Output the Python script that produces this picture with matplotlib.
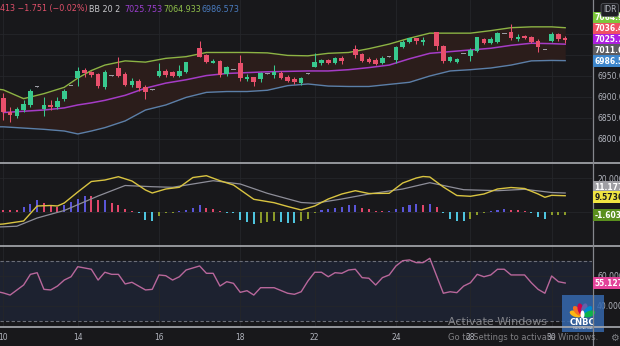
import matplotlib
matplotlib.use("Agg")
import matplotlib.pyplot as plt
from matplotlib.lines import Line2D
from matplotlib.patches import Ellipse, Rectangle
import numpy as np

nan = np.nan

# ---- price candles (4h bars) ----
opens = [6897.6, 6865.0, 6854.8, 6869.0, 6880.9, 6924.5, 6871.4, 6880.9, 6875.5, 6894.5,
         6926.2, 6945.2, 6964.3, 6958.8, 6954.8, 6924.5, 6950.7, 6968.3, 6954.8, 6928.6,
         6938.1, 6924.5, 6917.4, 6950.0, 6961.9, 6960.2, 6950.0, 6960.2, nan, 7015.9,
         7000.0, 6981.7, 6985.7, 6954.8, 6964.3, 6980.2, 6942.1, 6946.9, 6942.9, 6956.4,
         6952.4, 6957.9, 6948.3, 6942.1, 6934.0, 6956.4, 6972.1, 6980.2, 6988.1, 6980.2,
         6992.1, nan, 7013.6, 7001.7, 6989.7, 6988.1, 6980.2, 6995.9, 6988.1, 7018.3,
         7030.2, 7039.8, 7031.7, nan, 7053.6, 7021.4, 6986.4, 6982.6, 7002.4, 6997.6,
         7010.2, 7037.4, 7027.9, 7031.7, 7050.0, 7055.5, 7037.4, 7045.2, 7043.6, 7034.0,
         7011.9, 7034.0, 7050.0, 7039.8]
highs = [6909.5, 6876.9, 6876.9, 6892.8, 6918.3, 6925.5, 6900.7, 6892.8, 6899.3, 6918.3,
         6927.2, 6970.7, 6968.3, 6962.6, 6957.9, 6964.3, 6951.7, 6994.5, 6960.2, 6944.5,
         6942.1, 6928.6, 6918.4, 6980.2, 6965.9, 6962.6, 6976.2, 6984.1, nan, 7034.0,
         7002.4, 6989.7, 6988.1, 6973.8, 6965.3, 7000.0, 6954.0, 6948.3, 6960.2, 6957.4,
         6976.2, 6961.9, 6952.4, 6948.3, 6948.3, 6957.4, 7004.0, 6990.5, 6990.5, 6995.9,
         6997.6, nan, 7023.8, 7005.5, 6994.5, 6992.1, 6997.6, 6996.9, 7021.4, 7035.7,
         7041.2, 7041.2, 7042.1, nan, 7055.5, 7023.8, 6997.6, 6993.6, 7003.4, 7015.9,
         7043.6, 7039.8, 7042.1, 7054.0, 7051.0, 7073.8, 7049.3, 7047.6, 7045.2, 7037.4,
         7012.9, 7054.0, 7053.1, 7045.2]
lows = [6845.2, 6841.2, 6849.3, 6865.0, 6876.9, 6923.5, 6854.8, 6869.0, 6870.7, 6891.2,
        6925.2, 6926.2, 6948.3, 6948.3, 6920.7, 6918.3, 6949.7, 6948.3, 6926.2, 6924.5,
        6915.0, 6894.5, 6916.4, 6948.3, 6948.3, 6948.3, 6948.3, 6957.9, nan, 6994.5,
        6980.2, 6980.2, 6948.3, 6950.7, 6963.3, 6938.8, 6938.8, 6926.2, 6936.4, 6955.4,
        6944.5, 6942.1, 6936.4, 6931.0, 6928.6, 6955.4, 6970.7, 6976.2, 6977.9, 6978.6,
        6978.6, nan, 6992.1, 6984.1, 6980.2, 6976.2, 6977.9, 6994.9, 6980.2, 7015.9,
        7027.9, 7026.2, 7023.8, nan, 7011.9, 6980.2, 6984.1, 6980.2, 7001.4, 6986.4,
        7007.9, 7025.5, 7026.2, 7029.3, 7049.0, 7035.7, 7033.3, 7037.4, 7029.3, 7007.9,
        7010.9, 7031.7, 7034.0, 7027.9]
closes = [6864.3, 6857.1, 6870.7, 6882.6, 6914.3, 6924.5, 6880.9, 6875.5, 6891.2, 6914.3,
          6926.2, 6962.6, 6956.4, 6952.4, 6926.2, 6960.2, 6950.7, 6950.7, 6928.6, 6938.8,
          6920.7, 6912.6, 6917.4, 6961.9, 6952.4, 6950.0, 6961.9, 6982.6, nan, 6995.9,
          6982.6, 6986.4, 6952.4, 6970.7, 6964.3, 6944.5, 6948.3, 6935.0, 6956.4, 6956.4,
          6960.2, 6946.0, 6938.1, 6936.4, 6944.5, 6956.4, 6984.1, 6988.1, 6980.2, 6992.1,
          6986.4, nan, 7000.0, 6986.4, 6984.1, 6977.9, 6993.6, 6995.9, 7018.3, 7031.7,
          7039.8, 7033.3, 7035.7, nan, 7020.7, 6986.4, 6994.5, 6990.5, 7002.4, 7011.9,
          7042.1, 7027.9, 7037.4, 7051.6, 7050.0, 7039.8, 7043.6, 7039.8, 7031.7, 7018.3,
          7011.9, 7050.0, 7037.4, 7036.4]
prev_close = 7011.6
last_close = 7036.413
change = -1.751
change_pct = -0.02

# ---- Bollinger bands (20, 2) ----
bb_idx = [-1, 0, 3, 6, 9, 11, 13, 15, 18, 21, 24, 27, 30, 33, 36, 39, 42, 45, 48, 51,
          54, 57, 60, 63, 66, 69, 72, 75, 78, 81, 83]
bb_upper = [6919, 6917, 6896, 6908, 6923, 6945, 6963, 6976, 6986, 6983, 6992, 6996, 7006,
            7006, 7006, 7005, 6999, 6998, 7004, 7006, 7015, 7026, 7040, 7052, 7052, 7052,
            7058, 7065, 7067, 7067, 7064.933]
bb_mid = [nan, 6863, 6866, 6869, 6874, 6881, 6886, 6892, 6904, 6921, 6933, 6941, 6951,
          6956, 6958, 6960, 6961, 6962, 6962, 6965, 6970, 6976, 6991, 7004, 7008, 7012,
          7016, 7023, 7028, 7027, 7025.753]
bb_lower = [6829, 6829, 6826, 6823, 6819, 6812, 6819, 6827, 6843, 6869, 6881, 6899, 6911,
            6913, 6913, 6916, 6927, 6931, 6926, 6925, 6925, 6930, 6935, 6950, 6962, 6965,
            6969, 6976, 6986, 6987, 6986.573]

# ---- MACD ----
macd_idx = [-1, 0, 3, 5, 7, 8, 9, 11, 13, 15, 17, 19, 21, 22, 24, 26, 28, 30, 32, 34,
            37, 40, 42, 44, 46, 48, 50, 52, 54, 57, 59, 61, 62, 63, 65, 67, 69, 71, 73, 75,
            77, 79, 80, 81, 83]
macd_val = [-7.35, -7.06, -5.29, 3.53, 3.82, 3.53, 5.29, 11.76, 17.94, 18.82,
            20.76, 18.24, 12.94, 11.18, 13.53, 14.53, 20.29, 21.35, 18.41, 15.88,
            7.47, 5.47, 3.24, 1.18, 3.53, 7.65, 10.59, 12.53, 10.88, 11.0,
            17.06, 20.0, 20.88, 20.59, 14.71, 9.71, 9.24, 10.59, 13.53, 14.41,
            13.82, 10.59, 8.65, 9.82, 9.5736]
signal_idx = [-1, 0, 2, 5, 9, 14, 18, 22, 25, 31, 35, 39, 44, 46, 50, 54, 59, 63, 68, 73,
              77, 81, 83]
signal_val = [-8.82, -8.71, -8.35, -3.53, 0.88, 9.41, 15.59, 14.88, 14.53, 18.41,
              16.47, 11.0, 5.59, 5.12, 7.65, 10.59, 13.53, 17.24, 13.12, 12.53,
              13.35, 11.47, 11.1772]
hist = [1.4, 1.2, 1.0, 2.9, 4.9, 6.9, 5.3, 3.3, 2.9, 3.9,
        5.9, 7.6, 9.7, 9.4, 6.8, 7.0, 5.3, 4.3, 1.8, 0.6,
        -0.6, -4.5, -5.3, -2.5, -0.5, -0.3, 0.4, 1.4, 2.4, 3.9,
        2.5, 1.6, 0.5, -0.3, -0.6, -4.8, -5.8, -6.8, -6.3, -5.9,
        -5.3, -6.0, -6.2, -6.3, -5.0, -4.0, -0.5, 1.2, 1.6, 2.5,
        2.9, 3.9, 4.0, 2.5, 2.0, 0.6, 0.4, 0.8, 2.0, 3.1,
        4.1, 4.5, 4.3, 4.9, 2.9, -0.6, -3.9, -5.3, -5.4, -3.9,
        -2.0, -0.6, 0.3, 1.2, 1.6, 1.4, 1.0, 0.4, -0.8, -2.7,
        -4.3, -2.0, -1.9, -1.6036]

# ---- RSI ----
rsi_idx = [-1, 0, 1, 3, 4, 5, 6, 7, 8, 9, 10, 11, 13, 14, 15, 16, 17, 18, 19, 21,
           22, 23, 24, 25, 26, 27, 29, 30, 31, 32, 33, 34, 35, 36, 37, 38, 40, 42, 43, 44,
           45, 46, 47, 48, 49, 50, 51, 52, 53, 54, 55, 56, 57, 58, 59, 60, 61, 62, 63, 65,
           66, 67, 68, 69, 70, 71, 72, 73, 74, 75, 77, 78, 79, 80, 81, 82, 83]
rsi_val = [49.5, 48.5, 47.1, 53.8, 60.9, 62.0, 50.9, 50.5, 53.1, 57.1,
           59.3, 66.0, 64.3, 57.1, 62.3, 60.9, 60.9, 54.5, 55.6, 50.5,
           50.9, 60.5, 60.0, 57.1, 59.3, 63.8, 66.5, 61.6, 61.6, 53.1,
           56.0, 54.9, 48.9, 50.0, 47.1, 52.0, 52.0, 48.3, 47.6, 49.3,
           56.5, 62.3, 62.3, 59.3, 62.0, 61.6, 63.8, 64.3, 58.7, 58.3,
           53.8, 58.7, 60.5, 66.5, 70.0, 70.5, 68.7, 68.7, 71.6, 48.3,
           49.3, 48.7, 53.1, 55.3, 60.9, 59.3, 60.5, 64.3, 64.3, 60.5,
           60.5, 55.3, 50.9, 48.3, 59.8, 56.0, 55.127]

day_idx = [0, 11, 23, 35, 46, 58, 69, 81]
day_labels = ["10", "14", "16", "18", "22", "24", "28", "30"]

# ---- style ----
BG = "#18181b"
GRID = "#25262a"
TXT = "#b2b5be"
UP, DOWN, DOJI = "#38c98f", "#e8506c", "#9a9ca3"
W, H = 620, 346


def fx(px):
    return px / W


def fy(py):
    return 1 - py / H


fig = plt.figure(figsize=(6.2, 3.46), dpi=100, facecolor=BG)
plt.rcParams["font.family"] = ["DejaVu Sans"]

xl = (-0.49, 86.96)
ax = fig.add_axes([0, fy(162.5), fx(592), 162.5 / H])
axm = fig.add_axes([0, fy(246), fx(592), 82.5 / H])
axr = fig.add_axes([0, fy(327), fx(592), 81 / H])

for a in (ax, axm, axr):
    a.set_facecolor(BG)
    for s in a.spines.values():
        s.set_visible(False)
    a.set_xlim(*xl)
    a.set_xticks(day_idx)
    a.tick_params(length=0, labelsize=5.5, colors=TXT, pad=3.6)
    a.yaxis.tick_right()
    a.grid(True, color=GRID, lw=0.6)
    a.set_axisbelow(True)
ax.set_xticklabels([])
axm.set_xticklabels([])
axr.set_xticklabels(day_labels)
axr.tick_params(axis="x", pad=4.2)

# main panel
ax.set_ylim(6744.0, 7130.95)
ax.set_yticks([6800, 6850, 6900, 6950, 7000, 7050])
ax.set_yticklabels([f"{v:.1f}" for v in [6800, 6850, 6900, 6950, 7000, 7050]])

ax.fill_between(bb_idx, bb_lower, bb_upper, color="#2b1d1b", lw=0, zorder=1)
ax.plot(bb_idx, bb_upper, color="#8db344", lw=1.0, zorder=2)
ax.plot(bb_idx, bb_mid, color="#a53cc6", lw=1.1, zorder=2)
ax.plot(bb_idx, bb_lower, color="#5b7fa8", lw=1.0, zorder=2)

o = np.array(opens)
hi = np.array(highs)
lo = np.array(lows)
c = np.array(closes)
idx = np.arange(len(o))
ok = ~np.isnan(o)
cols = np.where(c > o, UP, np.where(c < o, DOWN, DOJI))
ax.vlines(idx[ok], lo[ok], hi[ok], colors=cols[ok], lw=0.75, zorder=3)
body = np.maximum(np.abs(c - o), 2.4)
bottom = np.where(np.abs(c - o) < 2.4, (o + c) / 2 - 1.2, np.minimum(o, c))
ax.bar(idx[ok], body[ok], bottom=bottom[ok], width=0.68, color=cols[ok], lw=0, zorder=4)

# MACD panel
axm.set_ylim(-20.0, 28.53)
axm.set_yticks([0, 20])
axm.set_yticklabels(["0.000", "20.000"])
hv = np.array(hist)
hcol = []
for i, v in enumerate(hv):
    rising = i > 0 and v > hv[i - 1]
    if v >= 0:
        hcol.append("#5a55d8" if rising else "#e0466a")
    else:
        hcol.append("#8a9a2a" if rising else "#4ec4de")
axm.bar(idx, hv, width=0.3, color=hcol, lw=0, zorder=2)
axm.plot(signal_idx, signal_val, color="#8e8e99", lw=0.9, zorder=3)
axm.plot(macd_idx, macd_val, color="#d9c441", lw=1.0, zorder=4)

# RSI panel
axr.set_ylim(25.8, 79.8)
axr.set_yticks([40, 60])
axr.set_yticklabels(["40.000", "60.000"])
axr.axhspan(30, 70, color="#1d2230", lw=0, zorder=0)
for lvl in (30, 70):
    axr.axhline(lvl, color="#6b6e78", lw=0.8, ls=(0, (3, 2)), zorder=1)
axr.plot(rsi_idx, rsi_val, color="#b8679b", lw=1.0, zorder=3)

# separators
for py in (163, 246, 327):
    fig.add_artist(Line2D([0, 1], [fy(py), fy(py)], color="#a9abb0", lw=1.2))
fig.add_artist(Line2D([fx(592.5), fx(592.5)], [0, 1], color="#85878d", lw=0.9))

# legend line top-left
fs = 5.8
fig.text(fx(0), fy(9), f"{str(last_close)[-3:]} \u2212{abs(change):.3f} (\u2212{abs(change_pct):.2f}%)",
         color="#e0506a", fontsize=fs, va="center")
fig.text(fx(89), fy(9), "BB 20 2", color="#c8c8cc", fontsize=fs, va="center")
fig.text(fx(124), fy(9), f"{bb_mid[-1]:.3f}", color="#9c3fd0", fontsize=fs, va="center")
fig.text(fx(163), fy(9), f"{bb_upper[-1]:.3f}", color="#8fbf4a", fontsize=fs, va="center")
fig.text(fx(201), fy(9), f"{bb_lower[-1]:.3f}", color="#4a7cc0", fontsize=fs, va="center")


def tag(py, txt, bg, fg="white"):
    fig.text(fx(594.5), fy(py), txt, color=fg, fontsize=5.5, va="center", ha="left",
             fontweight="bold",
             bbox=dict(boxstyle="square,pad=0.2", fc=bg, ec="none"))


tag(17.7, f"{bb_upper[-1]:.3f}", "#7cc63c")
fig.text(fx(603), fy(10), "IDR", color=TXT, fontsize=5.5, va="center", ha="left",
         bbox=dict(boxstyle="round,pad=0.25", fc="#1e1f23", ec="#55575d", lw=0.6))
tag(28.8, f"{closes[-1]:.3f}", "#ef5064")
tag(39.6, f"{bb_mid[-1]:.3f}", "#ad1fe0")
tag(50.5, f"{prev_close:.3f}", "#5c5c60")
tag(61.3, f"{bb_lower[-1]:.3f}", "#3d86cc")

tag(187.4, f"{signal_val[-1]:.4f}", "#9e9ea3")
tag(197.0, f"{macd_val[-1]:.4f}", "#f0e442", "#1e1e1e")
tag(215.0, f"{hist[-1]:.4f}", "#5a8f1e")
tag(283.4, f"{rsi_val[-1]:.4f}", "#e3439a")

# CNBC logo watermark
lg = fig.add_axes([fx(561.5), fy(331.5), fx(42), 36.5 / H])
lg.set_xlim(0, 42)
lg.set_ylim(0, 36.5)
lg.axis("off")
lg.add_patch(Rectangle((0, 0), 42, 36.5, color="#3568ad", alpha=0.85, lw=0))
feathers = ["#fcb711", "#f37021", "#cc004c", "#6460aa", "#0089d0", "#0db14b"]
for k, col in enumerate(feathers):
    ang = 160 - k * 28
    r = np.radians(ang)
    lg.add_patch(Ellipse((21 + 7.5 * np.cos(r), 15 + 7.5 * np.sin(r)), 12, 6,
                         angle=ang, color=col, lw=0))
lg.add_patch(Ellipse((21, 17), 4, 8, color="white", lw=0))
lg.text(21, 9, "CNBC", color="white", fontsize=6, fontweight="bold", ha="center", va="center")
lg.text(21, 3.5, "INDONESIA", color="white", fontsize=2.6, ha="center", va="center")

# Windows watermark
fig.text(fx(448), fy(322), "Activate Windows", color="#9a9a9e", alpha=0.8, fontsize=8,
         va="center")
fig.text(fx(448), fy(337), "Go to Settings to activate Windows.", color="#9a9a9e",
         alpha=0.8, fontsize=6, va="center")
fig.text(fx(614), fy(338), "\u2699", color="#808287", fontsize=7, ha="center", va="center")

fig.savefig("out.png", dpi=100, facecolor=BG)
